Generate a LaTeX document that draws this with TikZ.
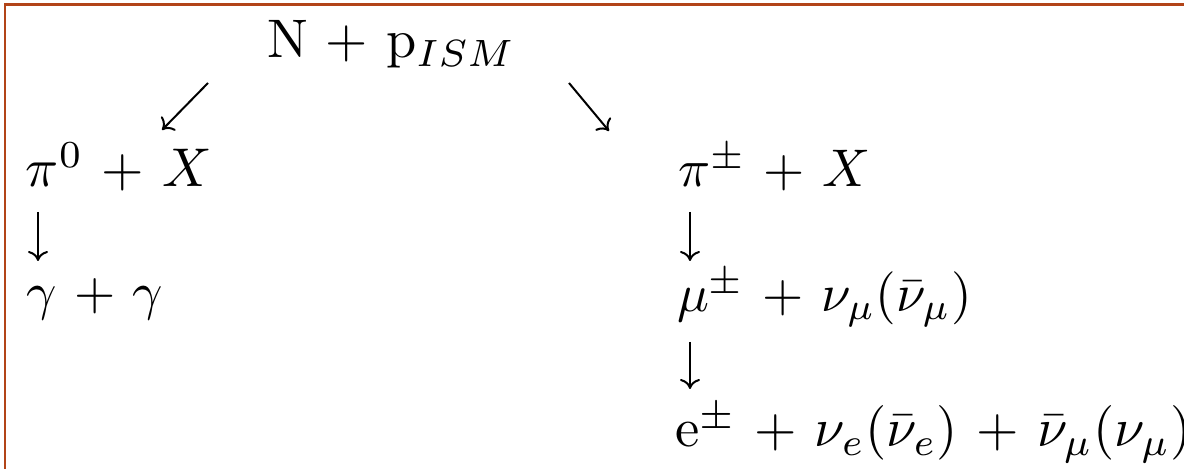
\documentclass[tikz,border=0pt]{standalone}
\usetikzlibrary{arrows.meta}
\definecolor{frameclr}{RGB}{178,68,24}
\tikzset{
  lbl/.style={anchor=base west, inner sep=0pt, outer sep=0pt, scale=2.65, transform shape},
  arr/.style={line width=1pt, -{Computer Modern Rightarrow[length=5pt,width=10pt]}},
  frame/.style={draw=frameclr, line width=1.1pt}
}
\begin{document}
\begin{tikzpicture}[x=0.5pt,y=-0.5pt]
\useasboundingbox (0,0) rectangle (1184,469);
\clip (0,0) rectangle (1184,469);
\fill[white] (0,0) rectangle (1184,469);
\draw[frame] (5,4.5) rectangle (1200,490);
% nodes
\node[lbl, scale=1.025] (top) at (267,58) {N + p$_{ISM}$};
\node[lbl, scale=1.03] (pizero) at (26,187) {$\pi^0$ + $X$};
\node[lbl] (gam) at (26,310) {$\gamma$ + $\gamma$};
\node[lbl] (pipm) at (678,187) {$\pi^\pm$ + $X$};
\node[lbl] (mu) at (677,312) {$\mu^\pm$ + $\nu_\mu(\bar\nu_\mu)$};
\node[lbl, scale=1.03] (el) at (675,447) {e$^\pm$ + $\nu_e(\bar\nu_e)$ + $\bar\nu_\mu(\nu_\mu)$};
% connector end points
\coordinate (la) at (208,83);
\coordinate (lb) at (162,130);
\coordinate (ra) at (569,83);
\coordinate (rb) at (609,131);
\coordinate (d1a) at (38,212);
\coordinate (d1b) at (38,261);
\coordinate (d2a) at (690,212);
\coordinate (d2b) at (690,261);
\coordinate (d3a) at (690,342);
\coordinate (d3b) at (690,389);
\draw[arr] (la) -- (lb);
\draw[arr] (ra) -- (rb);
\draw[arr] (d1a) -- (d1b);
\draw[arr] (d2a) -- (d2b);
\draw[arr] (d3a) -- (d3b);
\end{tikzpicture}
\end{document}
